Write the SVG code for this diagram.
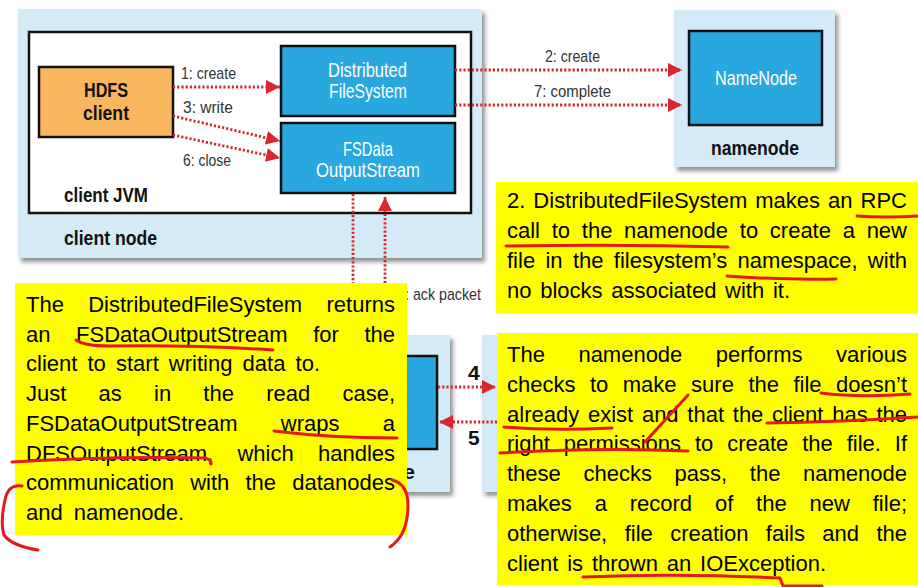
<svg xmlns="http://www.w3.org/2000/svg" width="918" height="587" viewBox="0 0 918 587">
<defs>
<filter id="sh" x="-10%" y="-10%" width="130%" height="130%">
<feDropShadow dx="3" dy="4" stdDeviation="2" flood-color="#777" flood-opacity="0.8"/>
</filter>
<marker id="ah" markerUnits="userSpaceOnUse" markerWidth="14" markerHeight="14" viewBox="0 0 14 14" refX="14" refY="7" orient="auto">
<path d="M0,0 L14,7 L0,14 z" fill="#D7282F"/>
</marker>
<style>
.node{fill:#D4EBF7;filter:url(#sh)}
.blue{fill:#29A8E0;stroke:#111;stroke-width:2.5}
.wt{font-family:"Liberation Sans",Arial,sans-serif;font-size:20px;fill:#fff}
.bt{font-family:"Liberation Sans",Arial,sans-serif;font-size:21px;font-weight:bold;fill:#111}
.lb{font-family:"Liberation Sans",Arial,sans-serif;font-size:17px;fill:#333}
.con{fill:none;stroke:#D7282F;stroke-width:2.8;stroke-dasharray:2.2 2}
.yb{fill:#FFFF00}
.yt{font-family:"Liberation Sans",Arial,sans-serif;font-size:22px;fill:#000}
.pen{fill:none;stroke:#E3191C;stroke-width:3;stroke-linecap:round;stroke-linejoin:round}
</style>
</defs>
<rect width="918" height="587" fill="#fff"/>

<g id="client-node">
<rect class="node" x="18" y="9" width="464" height="249"/>
<rect x="29" y="32" width="442" height="181" fill="#fff" stroke="#111" stroke-width="2.5"/>
<text class="bt" x="64" y="202" textLength="84" lengthAdjust="spacingAndGlyphs">client JVM</text>
<text class="bt" x="64" y="245" textLength="93" lengthAdjust="spacingAndGlyphs">client node</text>
</g>
<g id="hdfs-client">
<rect x="39" y="67" width="134" height="70" fill="#F9B65E" stroke="#111" stroke-width="2.5"/>
<text class="bt" x="84" y="97" textLength="44" lengthAdjust="spacingAndGlyphs">HDFS</text>
<text class="bt" x="83" y="120" textLength="46" lengthAdjust="spacingAndGlyphs">client</text>
</g>
<g id="distributed-filesystem">
<rect class="blue" x="281" y="46" width="174" height="70"/>
<text class="wt" x="328" y="77" textLength="79" lengthAdjust="spacingAndGlyphs">Distributed</text>
<text class="wt" x="329" y="98" textLength="78" lengthAdjust="spacingAndGlyphs">FileSystem</text>
</g>
<g id="fsdata-outputstream">
<rect class="blue" x="281" y="123" width="174" height="70"/>
<text class="wt" x="343" y="156" textLength="50" lengthAdjust="spacingAndGlyphs">FSData</text>
<text class="wt" x="316" y="177" textLength="104" lengthAdjust="spacingAndGlyphs">OutputStream</text>
</g>
<g id="namenode">
<rect class="node" x="674" y="10" width="161" height="157"/>
<rect class="blue" x="689" y="31" width="133" height="94"/>
<text class="wt" x="715" y="85" textLength="82" lengthAdjust="spacingAndGlyphs">NameNode</text>
<text class="bt" x="711" y="155" textLength="88" lengthAdjust="spacingAndGlyphs">namenode</text>
</g>
<g id="datanode-1">
<rect class="node" x="300" y="335" width="150" height="157"/>
<rect class="blue" x="310" y="356" width="127" height="93"/>
<text class="bt" x="415" y="479" text-anchor="end" font-size="20">e</text>
</g>
<g id="datanode-2">
<rect class="node" x="482" y="335" width="160" height="157"/>
</g>

<g id="connectors">
<line class="con" x1="173" y1="87" x2="280" y2="87" marker-end="url(#ah)"/>
<line class="con" x1="173" y1="116" x2="280" y2="141" marker-end="url(#ah)"/>
<line class="con" x1="173" y1="135" x2="280" y2="158" marker-end="url(#ah)"/>
<line class="con" x1="455" y1="70" x2="682" y2="70" marker-end="url(#ah)"/>
<line class="con" x1="455" y1="105" x2="682" y2="105" marker-end="url(#ah)"/>
<line class="con" x1="353" y1="194" x2="353" y2="300"/>
<line class="con" x1="385" y1="300" x2="385" y2="197" marker-end="url(#ah)"/>
<line class="con" x1="438" y1="387" x2="496" y2="387" marker-end="url(#ah)"/>
<line class="con" x1="497" y1="422" x2="439" y2="422" marker-end="url(#ah)"/>
<text class="lb" x="181" y="79" textLength="55" lengthAdjust="spacingAndGlyphs">1: create</text>
<text class="lb" x="183" y="113" textLength="50" lengthAdjust="spacingAndGlyphs">3: write</text>
<text class="lb" x="183" y="166" textLength="48" lengthAdjust="spacingAndGlyphs">6: close</text>
<text class="lb" x="545" y="62" textLength="55" lengthAdjust="spacingAndGlyphs">2: create</text>
<text class="lb" x="534" y="97" textLength="77" lengthAdjust="spacingAndGlyphs">7: complete</text>
<text class="lb" x="405" y="300" textLength="76" lengthAdjust="spacingAndGlyphs">: ack packet</text>
<text class="bt" x="468" y="380" font-size="19">4</text>
<text class="bt" x="468" y="445" font-size="19">5</text>
</g>

<g id="note-rpc">
<rect class="yb" x="496" y="182" width="422" height="131"/>
<text class="yt" x="507" y="208" textLength="400" lengthAdjust="spacingAndGlyphs" style="word-spacing:1.9px">2. DistributedFileSystem makes an RPC</text>
<text class="yt" x="507" y="238" textLength="400" lengthAdjust="spacingAndGlyphs" style="word-spacing:5.6px">call to the namenode to create a new</text>
<text class="yt" x="507" y="268" textLength="400" lengthAdjust="spacingAndGlyphs" style="word-spacing:4.2px">file in the filesystem’s namespace, with</text>
<text class="yt" x="507" y="298" textLength="283" lengthAdjust="spacingAndGlyphs" style="word-spacing:2.6px">no blocks associated with it.</text>
</g>
<g id="note-fsdata">
<rect class="yb" x="15" y="283" width="392" height="252"/>
<text class="yt" x="26" y="312" textLength="369" lengthAdjust="spacingAndGlyphs" style="word-spacing:18.2px">The DistributedFileSystem returns</text>
<text class="yt" x="26" y="341.5" textLength="369" lengthAdjust="spacingAndGlyphs" style="word-spacing:19.5px">an FSDataOutputStream for the</text>
<text class="yt" x="26" y="371" textLength="294" lengthAdjust="spacingAndGlyphs" style="word-spacing:4px">client to start writing data to.</text>
<text class="yt" x="26" y="401" textLength="369" lengthAdjust="spacingAndGlyphs" style="word-spacing:26.1px">Just as in the read case,</text>
<text class="yt" x="26" y="431" textLength="369" lengthAdjust="spacingAndGlyphs" style="word-spacing:37.2px">FSDataOutputStream wraps a</text>
<text class="yt" x="26" y="460.5" textLength="369" lengthAdjust="spacingAndGlyphs" style="word-spacing:18.2px">DFSOutputStream, which handles</text>
<text class="yt" x="26" y="490" textLength="369" lengthAdjust="spacingAndGlyphs" style="word-spacing:10.1px">communication with the datanodes</text>
<text class="yt" x="26" y="520" textLength="158" lengthAdjust="spacingAndGlyphs" style="word-spacing:5px">and namenode.</text>
</g>
<g id="note-checks">
<rect class="yb" x="497" y="333" width="421" height="252"/>
<text class="yt" x="507" y="362" textLength="400" lengthAdjust="spacingAndGlyphs" style="word-spacing:27.4px">The namenode performs various</text>
<text class="yt" x="507" y="391.8" textLength="400" lengthAdjust="spacingAndGlyphs" style="word-spacing:8.4px">checks to make sure the file doesn’t</text>
<text class="yt" x="507" y="421.6" textLength="400" lengthAdjust="spacingAndGlyphs" style="word-spacing:2.6px">already exist and that the client has the</text>
<text class="yt" x="507" y="451.4" textLength="400" lengthAdjust="spacingAndGlyphs" style="word-spacing:7.8px">right permissions to create the file. If</text>
<text class="yt" x="507" y="481.2" textLength="400" lengthAdjust="spacingAndGlyphs" style="word-spacing:16.5px">these checks pass, the namenode</text>
<text class="yt" x="507" y="511" textLength="400" lengthAdjust="spacingAndGlyphs" style="word-spacing:16.7px">makes a record of the new file;</text>
<text class="yt" x="507" y="540.8" textLength="400" lengthAdjust="spacingAndGlyphs" style="word-spacing:11.3px">otherwise, file creation fails and the</text>
<text class="yt" x="507" y="570.6" textLength="319" lengthAdjust="spacingAndGlyphs" style="word-spacing:2.7px">client is thrown an IOException.</text>
</g>

<g id="pen-marks">
<path class="pen" d="M857,216 Q885,218 918,216"/>
<path class="pen" d="M506,246 Q620,244 728,247"/>
<path class="pen" d="M727,276 Q780,280 836,279"/>
<path class="pen" d="M76,340 Q84,346 110,346 Q200,345 273,350"/>
<path class="pen" d="M274,431 Q330,438 397,438"/>
<path class="pen" d="M12,462 Q110,456 205,458 Q212,460 211,464"/>
<path class="pen" d="M22,486 Q8,484 5,500 Q0,523 4,535 Q12,546 38,550"/>
<path class="pen" d="M392,480 Q408,484 408,505 Q408,535 390,547"/>
<path class="pen" d="M821,393 Q860,398 910,394"/>
<path class="pen" d="M504,427 Q550,431 612,428"/>
<path class="pen" d="M645,442 L688,395"/>
<path class="pen" d="M767,423 Q840,422 918,417"/>
<path class="pen" d="M500,453 Q600,447 688,451"/>
<path class="pen" d="M583,577 Q680,573 780,578 L783,586 L822,586"/>
</g>
</svg>
